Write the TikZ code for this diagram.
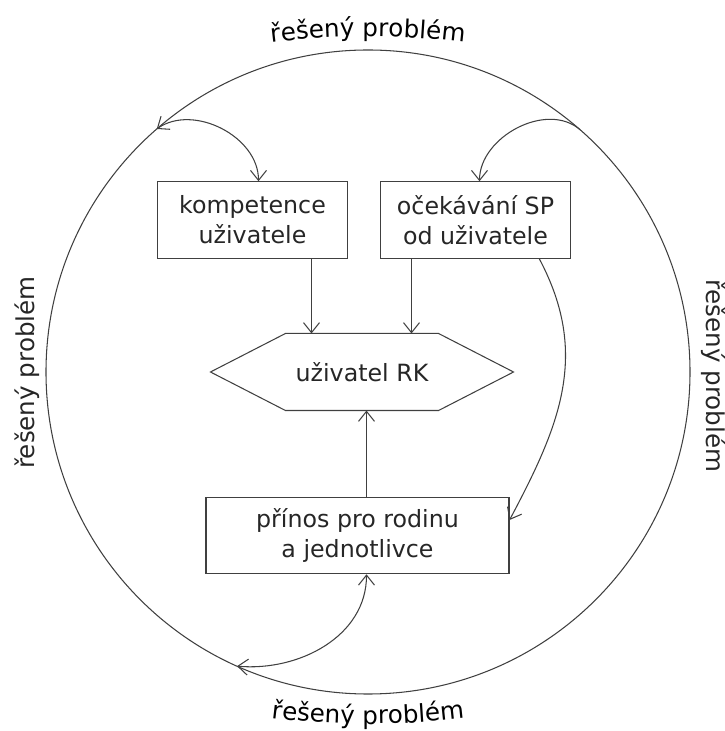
\documentclass[tikz,border=0pt]{standalone}
\usepackage{fontspec}
\setmainfont{DejaVu Sans}
\usetikzlibrary{arrows.meta,decorations.text}
\newcommand\boxfont{\fontsize{13.5}{17}\selectfont}
\newcommand\probfont{\fontsize{14}{17}\selectfont}

\begin{document}
\begin{tikzpicture}[line width=0.6pt, draw=black!75, text=black!85,
    >={Straight Barb[length=2mm,width=3.2mm]},
    box/.style={draw, minimum width=3.8cm, minimum height=1.53cm, align=center, font=\boxfont},
    probtext/.style={font=\probfont, anchor=base}]
     \useasboundingbox (-7.36,-7.18) rectangle (7.12,7.44);
     \draw (0,0) circle (6.44cm);
     \node[box] (komp) at (-2.31,3.04) {kompetence\\uživatele};
     \node[box, minimum width=3.79cm] (ocek) at (2.15,3.04) {očekávání SP\\od uživatele};
     \node[box, draw=none, minimum width=6.04cm, minimum height=1.52cm] (uziv) at (-0.12,0) {uživatel RK};
     \node[box, minimum width=6.06cm] (prin) at (-0.21,-3.27) {přínos pro rodinu\\a jednotlivce};
%	the hexagon round uziv:
     \draw ([xshift=1.5cm]uziv.north west) -- ([xshift=-1.5cm]uziv.north east) -- (uziv.east)
        -- ([xshift=-1.5cm]uziv.south east) -- ([xshift=1.5cm]uziv.south west) -- (uziv.west) -- cycle;
%	points on the circle:
     \coordinate (c1) at (131:6.44);
     \coordinate (c2) at (48.8:6.44);
     \coordinate (c3) at (246:6.44);
     \draw[<->] (c1) to[out=35,in=90] ([xshift=0.12cm]komp.north);
     \draw[->] (c2) to[out=139,in=90] ([xshift=0.08cm]ocek.north);
     \draw[->] ([xshift=-0.63cm]ocek.south east) to[out=-62,in=62,looseness=1.05] ([yshift=0.31cm]prin.east);
     \draw[<->] (c3) to[out=-5,in=-90] ([xshift=0.18cm]prin.south);
     \draw[->] ([xshift=1.18cm]komp.south) -- ([xshift=1.18cm]komp.south |- uziv.north);
     \draw[->] ([xshift=-1.28cm]ocek.south) -- ([xshift=-1.28cm]ocek.south |- uziv.north);
     \draw[->] ([xshift=0.18cm]prin.north) -- ([xshift=0.18cm]prin.north |- uziv.south);
%	now the labels round the circle:
     \path[decorate, decoration={text along path, text align=center,
        text={|\probfont|řešený problém}}]
        ([shift={(0,-9.29)}]100:16) arc[start angle=100, end angle=80, radius=16];
     \path[decorate, decoration={text along path, text align=center,
        text={|\probfont|řešený problém}}]
        ([shift={(0,8.96)}]260:16) arc[start angle=260, end angle=280, radius=16];
     \node[probtext, rotate=90] (pl) at (-6.67,-0.01) {řešený problém};
     \node[probtext, rotate=-90] (pr) at (6.77,-0.08) {řešený problém};
\end{tikzpicture}
\end{document}
